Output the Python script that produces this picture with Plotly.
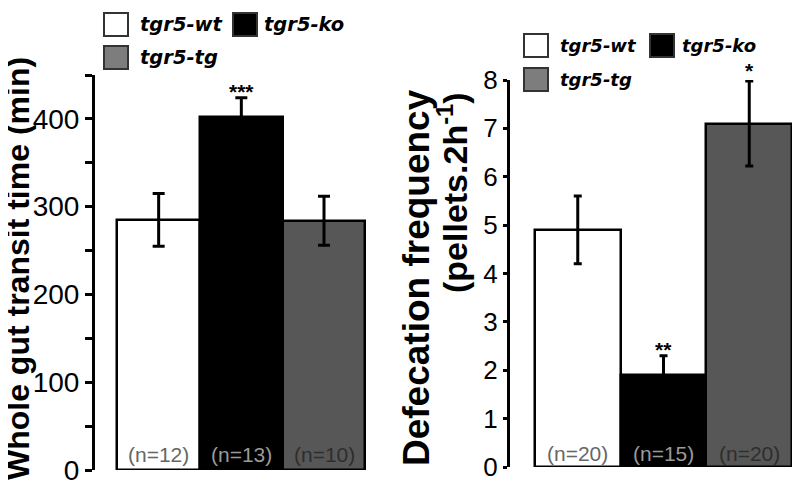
import plotly.graph_objects as go

# ---------------- data ----------------
groups = ["tgr5-wt", "tgr5-ko", "tgr5-tg"]
bar_colors = ["#ffffff", "#000000", "#575757"]
legend_box_colors = ["#ffffff", "#000000", "#7d7d7d"]

transit_mean = [285, 402, 284]
transit_sem = [30, 22, 28]
transit_n = ["(n=12)", "(n=13)", "(n=10)"]
transit_sig = ["", "***", ""]

defec_mean = [4.9, 1.9, 7.1]
defec_sem = [0.7, 0.4, 0.88]
defec_n = ["(n=20)", "(n=15)", "(n=20)"]
defec_sig = ["", "**", "*"]

n_label_colors = ["#666666", "#9a9a9a", "#2e2e2e"]

left_title = "Whole gut transit time (min)"
right_title_1 = "Defecation frequency"
right_title_2 = "(pellets.2h<sup>-1</sup>)"

# ---------------- helpers ----------------
# the page body adds an 8px offset; positions below are given in screen pixels
W, H = 800, 482
OFF = 8
def px(x):
    return (x - OFF) / W
def py(y):
    return 1 - (y - OFF) / H

TICKFONT = "Liberation Sans, Arial, sans-serif"
LEGFONT = "DejaVu Sans, Verdana, sans-serif"

fig = go.Figure()

fig.add_trace(go.Bar(
    x=groups, y=transit_mean, width=1,
    marker=dict(color=bar_colors, line=dict(color="black", width=2.5)),
    error_y=dict(type="data", array=transit_sem, visible=True,
                 color="black", thickness=3, width=6),
    xaxis="x", yaxis="y", showlegend=False, hoverinfo="skip"))

fig.add_trace(go.Bar(
    x=groups, y=defec_mean, width=1,
    marker=dict(color=bar_colors, line=dict(color="black", width=2.5)),
    error_y=dict(type="data", array=defec_sem, visible=True,
                 color="black", thickness=3, width=4),
    xaxis="x2", yaxis="y2", showlegend=False, hoverinfo="skip"))

annotations = []
shapes = []

# n labels and significance stars
for xa, ya, ns, sig, means, sems, ny in [
        ("x", "y", transit_n, transit_sig, transit_mean, transit_sem, 454),
        ("x2", "y2", defec_n, defec_sig, defec_mean, defec_sem, 453)]:
    for i, g in enumerate(groups):
        annotations.append(dict(
            x=g, y=py(ny), xref=xa, yref="paper", text=ns[i], showarrow=False,
            font=dict(family=TICKFONT, size=21, color=n_label_colors[i]),
            xanchor="center", yanchor="middle"))
        if sig[i]:
            annotations.append(dict(
                x=g, y=means[i] + sems[i], xref=xa, yref=ya, text="<b>%s</b>" % sig[i],
                showarrow=False, xanchor="center", yanchor="bottom",
                yshift=-7 if len(sig[i]) > 1 else -3,
                font=dict(family=TICKFONT, size=21, color="black")))

# axis titles
annotations.append(dict(x=px(18), y=py(269), xref="paper", yref="paper",
                        text="<b>%s</b>" % left_title, textangle=-90, showarrow=False,
                        font=dict(family=TICKFONT, size=32, color="black"),
                        xanchor="center", yanchor="middle"))
annotations.append(dict(x=px(416), y=py(278), xref="paper", yref="paper",
                        text="<b>%s</b>" % right_title_1, textangle=-90, showarrow=False,
                        font=dict(family=TICKFONT, size=37, color="black"),
                        xanchor="center", yanchor="middle"))
annotations.append(dict(x=px(453), y=py(193), xref="paper", yref="paper",
                        text="<b>%s</b>" % right_title_2, textangle=-90, showarrow=False,
                        font=dict(family=TICKFONT, size=34, color="black"),
                        xanchor="center", yanchor="middle"))

# legends (drawn as shapes + text)
def legend(positions, fsize):
    for (bx, by, tx), g, c in zip(positions, groups, legend_box_colors):
        shapes.append(dict(type="rect", xref="paper", yref="paper",
                           x0=px(bx), x1=px(bx + 24), y0=py(by + 23), y1=py(by),
                           fillcolor=c, line=dict(color="#333333", width=2)))
        annotations.append(dict(x=px(tx), y=py(by + 11.5), xref="paper", yref="paper",
                                text="<b><i>%s</i></b>" % g, showarrow=False,
                                xanchor="left", yanchor="middle",
                                font=dict(family=LEGFONT, size=fsize, color="black")))

legend([(104, 13, 138), (233, 13, 262), (104, 46, 138)], 19.5)
legend([(524, 34, 558), (650, 34, 680), (524, 68, 558)], 18)

fig.update_layout(
    width=W, height=H,
    margin=dict(l=0, r=0, t=0, b=0, autoexpand=False),
    paper_bgcolor="white", plot_bgcolor="white",
    bargap=0,
    xaxis=dict(domain=[px(95), px(367)], range=[-0.77, 2.52], visible=False,
               fixedrange=True),
    yaxis=dict(domain=[py(470), py(75)], range=[0, 450], anchor="x",
               showline=True, linecolor="black", linewidth=3, showgrid=False,
               zeroline=False, ticks="outside", ticklen=7, tickwidth=3,
               tickcolor="black", dtick=100, tick0=0, ticklabeloverflow="allow",
               tickfont=dict(family=TICKFONT, size=28, color="black"),
               minor=dict(dtick=50, tick0=0, ticks="outside", ticklen=7,
                          tickwidth=3, tickcolor="black", showgrid=False),
               automargin=False),
    xaxis2=dict(domain=[px(510), px(793)], range=[-0.79, 2.51], visible=False,
                fixedrange=True),
    yaxis2=dict(domain=[py(467), py(80)], range=[0, 8], anchor="x2",
                showline=True, linecolor="black", linewidth=3, showgrid=False,
                zeroline=False, ticks="outside", ticklen=4, tickwidth=3,
                tickcolor="black", dtick=1, tick0=0, ticklabeloverflow="allow",
                tickfont=dict(family=TICKFONT, size=26, color="black"),
                automargin=False),
    annotations=annotations,
    shapes=shapes,
)

fig.write_html("out.html")
